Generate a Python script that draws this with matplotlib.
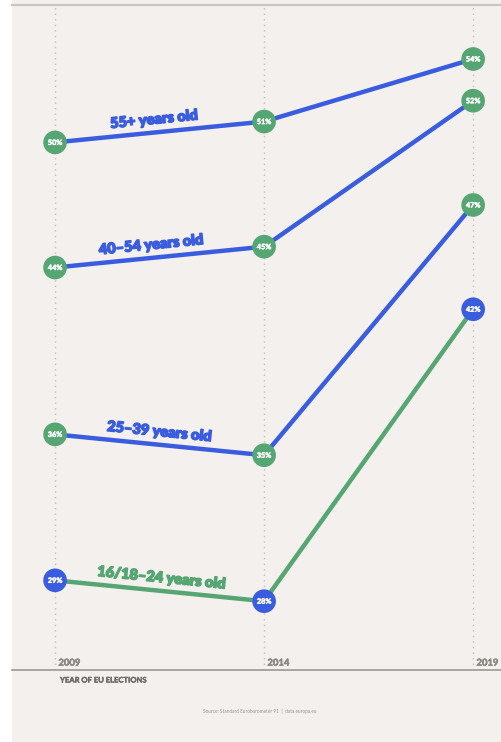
#!/usr/bin/env python3
# Turnout by age group in EU elections, 2009-2019 (slope-style line chart)

import numpy as np
import matplotlib.pyplot as plt
import matplotlib.patheffects as pe
from matplotlib.patches import Rectangle

# ---- data ----
years = [2009, 2014, 2019]
groups = ["55+ years old", "40–54 years old", "25–39 years old", "16/18–24 years old"]
turnout = {
    "55+ years old": [50, 51, 54],
    "40–54 years old": [44, 45, 52],
    "25–39 years old": [36, 35, 47],
    "16/18–24 years old": [29, 28, 42],
}
# label position along first segment (x in years)
label_x = [2011.37, 2011.3, 2011.5, 2011.55]

BLUE = "#3a5de0"
GREEN = "#55a672"
BG = "#f3f0ed"
line_col = [BLUE, BLUE, BLUE, GREEN]
dot_col = [GREEN, GREEN, GREEN, BLUE]

W, H = 502, 742
fig = plt.figure(figsize=(W / 100, H / 100), dpi=100)
fig.patch.set_facecolor("white")
fig.add_artist(Rectangle((12 / W, 0), 1 - 12 / W, 1, transform=fig.transFigure,
                         facecolor=BG, edgecolor="none", zorder=0))

ax = fig.add_axes([12 / W, 1 - 670 / H, 1 - 12 / W, (670 - 5) / H])
ax.set_facecolor(BG)
ax.set_xlim(2007.97, 2019.69)
ax.set_ylim(24.70, 56.59)

for s in ["left", "right"]:
    ax.spines[s].set_visible(False)
ax.spines["top"].set_color("#c9c5c1")
ax.spines["top"].set_linewidth(1.6)
ax.spines["bottom"].set_color("#9c9893")
ax.spines["bottom"].set_linewidth(1.2)
ax.set_xticks([])
ax.set_yticks([])

for y in years:
    ax.axvline(y, color="#c4c0bb", lw=1.0, ls=(0, (1, 3)), zorder=1)
    ax.text(y + 0.08, 25.03, str(y), fontsize=6.8, fontweight="bold",
            color="#8b8782", va="center", ha="left", family="Lato",
            path_effects=[pe.withStroke(linewidth=0.4, foreground="#8b8782")])

fig.canvas.draw()
for g, lx, lc, dc in zip(groups, label_x, line_col, dot_col):
    v = turnout[g]
    ax.plot(years, v, color=lc, lw=3.2, solid_capstyle="round", zorder=2)
    ax.scatter(years, v, s=290, color=dc, zorder=3, edgecolors="none")
    for x, val in zip(years, v):
        ax.text(x, val, f"{val}%", fontsize=5.3, fontweight="bold", color="white",
                ha="center", va="center", zorder=4, family="Lato",
                path_effects=[pe.withStroke(linewidth=0.3, foreground="white")])
    # rotate label along first segment
    p0 = ax.transData.transform((years[0], v[0]))
    p1 = ax.transData.transform((years[1], v[1]))
    ang = np.degrees(np.arctan2(p1[1] - p0[1], p1[0] - p0[0]))
    ly = v[0] + (v[1] - v[0]) * (lx - years[0]) / (years[1] - years[0])
    ax.annotate(g, (lx, ly), xytext=(0, 9.5), textcoords="offset points",
                ha="center", va="center", rotation=ang, rotation_mode="anchor",
                fontsize=10.5, fontweight="heavy", color=lc, family="Lato", zorder=4,
                path_effects=[pe.withStroke(linewidth=1.0, foreground=lc)])

fig.text(60 / W, 1 - 680 / H, "YEAR OF EU ELECTIONS", fontsize=5.5, fontweight="bold",
         color="#6e6a66", va="center", ha="left", family="Lato",
         path_effects=[pe.withStroke(linewidth=0.3, foreground="#6e6a66")])
fig.text(260 / W, 1 - 711 / H, "Source: Standard Eurobarometer 91  |  data.europa.eu",
         fontsize=3.4, color="#9a9691", va="center", ha="center", family="Lato")

fig.savefig("out.png", dpi=100, facecolor=fig.get_facecolor())
